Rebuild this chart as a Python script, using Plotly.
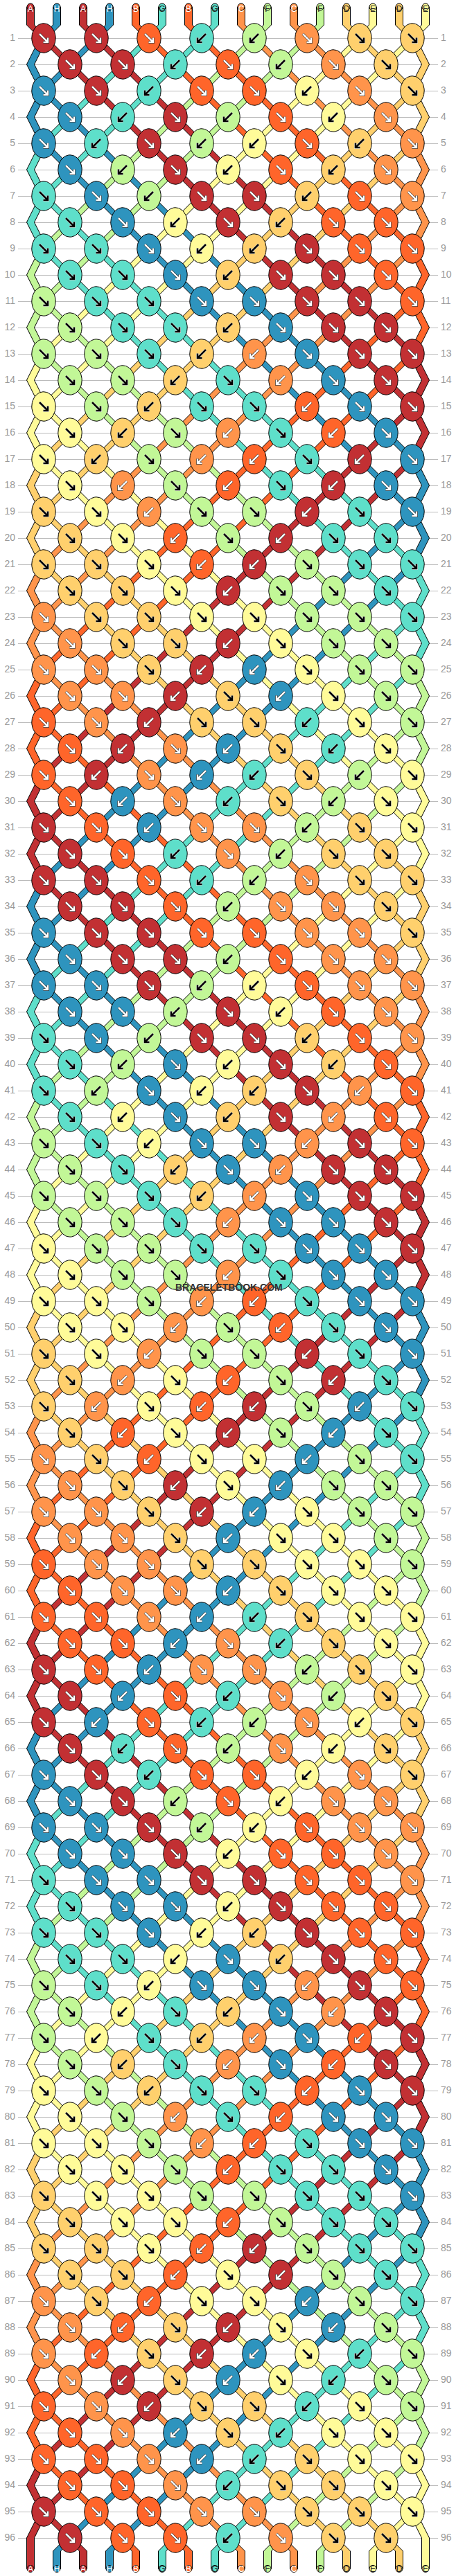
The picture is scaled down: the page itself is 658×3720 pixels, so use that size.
import numpy as np
import plotly.graph_objects as go

start_strands = list("AHAHBGBGCFCFDEDE")

string_colors = {
    "A": "#C23033", "H": "#2E94BE", "B": "#FF652A", "G": "#5EDFCA",
    "C": "#FF944B", "F": "#C2F797", "D": "#FFD06D", "E": "#FFFB99",
}
dark_strings = "AHBC"

# colour of the knot seen in each row, left to right
knot_rows = [
    "AABGFCDD", "AAGBFCD", "HAGBBECD", "HGAFBEC", "HGAFEBDC", "HFAEBDC",
    "GHFAADBC", "GHEADBB", "GGHEDABB", "GGHDAAB", "FGGHHAAB", "FGGDHAA",
    "FFGDCHAA", "FFDGCHA", "EFDGGBHA", "EDFCGBH", "EDFCBGAH", "ECFBGAH",
    "DECFFAGH", "DEBFAGG", "DDEBAFGG", "DDEAFFG", "CDDEEFFG", "CDDAEFF",
    "CCDAHEFF", "CCADHEF", "BCADDGEF", "BACHDGE", "BACHGDFE", "BHCGDFE",
    "ABHCCFDE", "ABGCFDD", "AABGFCDD", "AABFCCD", "HAABBCCD", "HAAFBCC",
    "HHAFEBCC", "HHFAEBC", "GHFAADBC", "GFHEADB", "GFHEDACB", "GEHDACB",
    "FGEHHCAB", "FGDHCAA", "FFGDCHAA", "FFGCHHA", "EFFGGHHA", "EFFCGHH",
    "EEFCBGHH", "EECFBGH", "DECFFAGH", "DCEBFAG", "DCEBAFHG", "DBEAFHG",
    "CDBEEHFG", "CDAEHFF", "CCDAHEFF", "CCDHEEF", "BCCDDEEF", "BCCHDEE",
    "BBCHGDEE", "BBHCGDE", "ABHCCFDE", "AHBGCFD", "AHBGFCED", "AGBFCED",
    "HAGBBECD", "HAFBECC", "HHAFEBCC", "HHAEBBC", "GHHAABBC", "GHHEABB",
    "GGHEDABB", "GGEHDAB", "FGEHHCAB", "FEGDHCA", "FEGDCHBA", "FDGCHBA",
    "EFDGGBHA", "EFCGBHH", "EEFCBGHH", "EEFBGGH", "DEEFFGGH", "DEEBFGG",
    "DDEBAFGG", "DDBEAFG", "CDBEEHFG", "CBDAEHF", "CBDAHEGF", "CADHEGF",
    "BCADDGEF", "BCHDGEE", "BBCHGDEE", "BBCGDDE", "ABBCCDDE", "ABBGCDD",
]

row_labels = [str(i + 1) for i in range(len(knot_rows))]

watermark = "BRACELETBOOK.COM"

# layout of the pattern, in page pixels
FIRST_ROW_Y = 55
ROW_STEP = 38
FIRST_STRING_X = 44
STRING_STEP = 38
TOP_Y = 10
BOTTOM_Y = 3709.5
HALF_WIDTH = 5.5
KNOT_RX = 17.2
KNOT_RY = 21.2


def row_y(r):
    return FIRST_ROW_Y + ROW_STEP * r


def string_x(p):
    return FIRST_STRING_X + STRING_STEP * p


# walk the strings through the rows: each knot swaps its two strings
order = list(range(len(start_strands)))
paths = [[(string_x(p), TOP_Y), (string_x(p), row_y(0) - 19)] for p in order]
knots = []
problems = []
for r, row in enumerate(knot_rows):
    first = 0 if r % 2 == 0 else 1
    y = row_y(r)
    if first == 1:
        paths[order[0]].append((string_x(0), y))
        paths[order[15]].append((string_x(15), y))
    for k, top in enumerate(row):
        p = first + 2 * k
        x = (string_x(p) + string_x(p + 1)) / 2
        a, b = order[p], order[p + 1]
        left, right = start_strands[a], start_strands[b]
        if top != left and top != right:
            problems.append(f"row {r + 1} knot {k + 1}: {top} not in {left}{right}")
        paths[a].append((x, y))
        paths[b].append((x, y))
        order[p], order[p + 1] = b, a
        knots.append((x, y, top, top == left))

if problems:
    raise ValueError("\n".join(problems))

# leave the last row straight down
for p, s in enumerate(order):
    if p == 0 or p == 15:
        paths[s].append((string_x(p), row_y(95)))
    else:
        paths[s].append((string_x(p), row_y(95) + 19))
    paths[s].append((string_x(p), BOTTOM_Y))

fig = go.Figure()

# row lines
line_x, line_y = [], []
for r in range(len(knot_rows)):
    line_x += [26, 632, None]
    line_y += [row_y(r) + 0.5, row_y(r) + 0.5, None]
fig.add_trace(go.Scatter(x=line_x, y=line_y, mode="lines",
                         line=dict(color="#BBBBBB", width=1)))

# strings, one ribbon per strand
for s, path in enumerate(paths):
    xs = [p[0] - HALF_WIDTH for p in path] + [p[0] + HALF_WIDTH for p in reversed(path)]
    ys = [p[1] for p in path] + [p[1] for p in reversed(path)]
    color = string_colors[start_strands[s]]
    fig.add_trace(go.Scatter(x=xs + xs[:1], y=ys + ys[:1], mode="lines", fill="toself",
                             fillcolor=color, line=dict(color="black", width=1)))
    fig.add_trace(go.Scatter(x=[path[0][0], path[-1][0]], y=[path[0][1], path[-1][1]],
                             mode="markers",
                             marker=dict(size=10, color=color, line=dict(color="black", width=1))))

# knots
t = np.linspace(0, 2 * np.pi, 49)
for name, color in string_colors.items():
    xs, ys = [], []
    for x, y, top, _ in knots:
        if top == name:
            xs += list(x + KNOT_RX * np.cos(t)) + [None]
            ys += list(y + KNOT_RY * np.sin(t)) + [None]
    fig.add_trace(go.Scatter(x=xs, y=ys, mode="lines", fill="toself", fillcolor=color,
                             line=dict(color="black", width=1)))

# arrows, white on dark knots and black on light ones
for arrow_color, halo, names in [("white", "black", dark_strings), ("black", "white", "GFDE")]:
    xs, ys = [], []
    for x, y, top, to_right in knots:
        if top not in names:
            continue
        d = 1 if to_right else -1
        xs += [x - 6 * d, x + 6 * d, None, x + 6 * d, x + 6 * d, x - 0.5 * d, None]
        ys += [y - 6, y + 6, None, y - 0.5, y + 6, y + 6, None]
    fig.add_trace(go.Scatter(x=xs, y=ys, mode="lines", line=dict(color=halo, width=3.6)))
    fig.add_trace(go.Scatter(x=xs, y=ys, mode="lines", line=dict(color=arrow_color, width=2.6)))

# string letters at both ends
letter_x = [string_x(p) for p in range(16)]
for y, names in [(13.6, start_strands), (3710.6, start_strands)]:
    fig.add_trace(go.Scatter(
        x=letter_x, y=[y] * 16, mode="text", text=names,
        textposition="middle center",
        textfont=dict(family="Liberation Sans", size=12,
                      color=["white" if n in dark_strings else "#222222" for n in names])))

# row numbers on both sides
ys = [row_y(r) for r in range(len(knot_rows))]
fig.add_trace(go.Scatter(x=[22] * len(ys), y=ys, mode="text", text=row_labels,
                         textposition="middle left",
                         textfont=dict(family="Liberation Sans", size=14, color="#999999")))
fig.add_trace(go.Scatter(x=[636] * len(ys), y=ys, mode="text", text=row_labels,
                         textposition="middle right",
                         textfont=dict(family="Liberation Sans", size=14, color="#999999")))

fig.add_annotation(x=330, y=1859, text=watermark, showarrow=False,
                   font=dict(family="Liberation Sans", size=14, color="#333333", weight="bold"))

fig.update_layout(
    width=658, height=3720, margin=dict(l=0, r=0, t=0, b=0),
    plot_bgcolor="white", paper_bgcolor="white",
    showlegend=False, hovermode=False,
    xaxis=dict(range=[0, 658], visible=False, fixedrange=True),
    yaxis=dict(range=[3720, 0], visible=False, fixedrange=True),
)

fig.write_html("out.html", post_script="document.body.style.margin='0';",
               config=dict(displayModeBar=False))
